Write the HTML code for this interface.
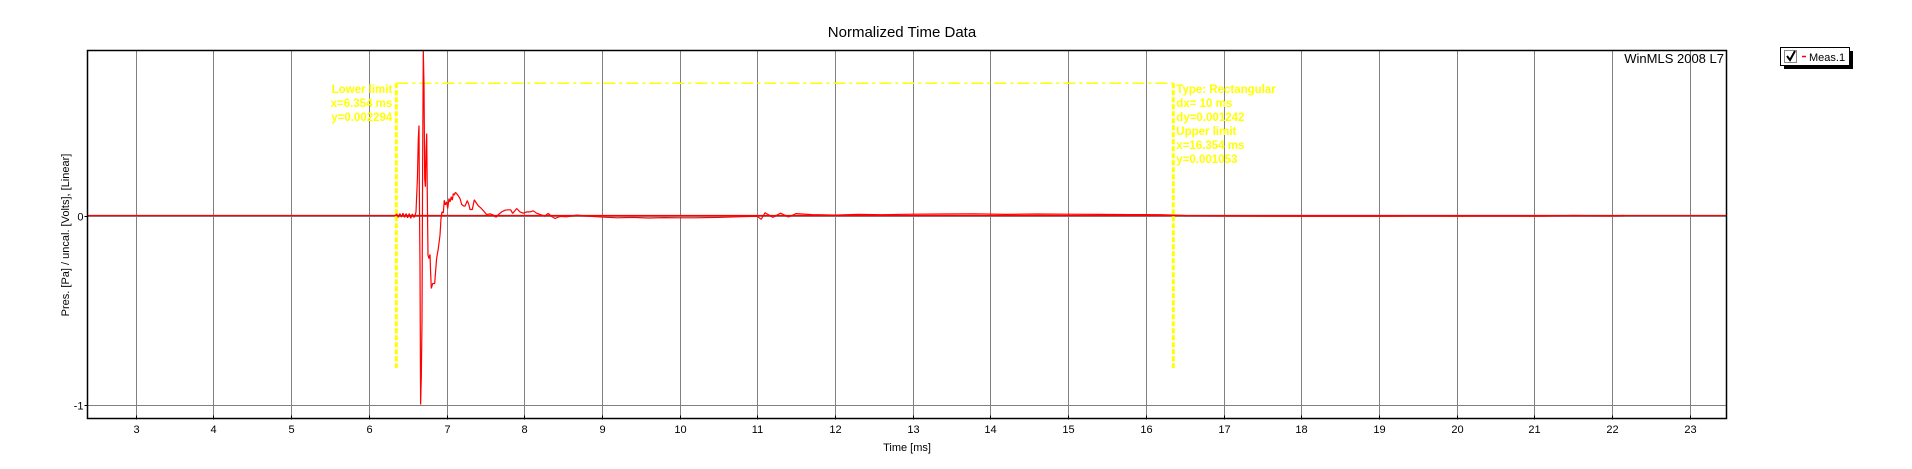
<!DOCTYPE html>
<html><head><meta charset="utf-8">
<style>
html,body{margin:0;padding:0;background:#fff;}
svg{display:block;font-family:"Liberation Sans",Arial,sans-serif;}
</style></head>
<body>
<svg id="chart" width="1912" height="469" viewBox="0 0 1912 469" xmlns="http://www.w3.org/2000/svg">
<rect x="0" y="0" width="1912" height="469" fill="#fff"/>
<text x="902" y="37" font-size="15" text-anchor="middle" fill="#000">Normalized Time Data</text>
<g id="grid"></g>
<g id="cursor"></g>
<g id="series"></g>
<rect x="87.5" y="50.5" width="1639" height="368" fill="none" stroke="#000" stroke-width="1.5"/>
<g id="axes"></g>
<text x="1724" y="63" font-size="13" text-anchor="end" fill="#000">WinMLS 2008 L7</text>
<text x="0" y="0" font-size="11" text-anchor="middle" fill="#000" transform="translate(69,235) rotate(-90)">Pres. [Pa] / uncal. [Volts], [Linear]</text>
<text x="907" y="451" font-size="11" text-anchor="middle" fill="#000">Time [ms]</text>
<g>
<rect x="1784" y="51" width="69" height="18" fill="#000"/>
<rect x="1780.5" y="47.5" width="69" height="18" fill="#fff" stroke="#000"/>
<rect x="1784.5" y="50.5" width="12" height="12" fill="#fff" stroke="#888"/>
<path d="M1787 56 L1790 60 L1795 51" fill="none" stroke="#000" stroke-width="2"/>
<line x1="1802" y1="56.5" x2="1806" y2="56.5" stroke="#f00" stroke-width="1.5"/>
<text x="1809" y="61" font-size="11" fill="#000">Meas.1</text>
</g>
</svg>
<script>
const xTicks = [3,4,5,6,7,8,9,10,11,12,13,14,15,16,17,18,19,20,21,22,23];
const yTicks = [0,-1];
const yTickLabels = ["0","-1"];
const times = [6.341,6.36,6.38,6.40,6.42,6.44,6.46,6.48,6.50,6.52,6.54,6.56,6.58,6.595,6.607,6.625,6.637,6.646,6.650,6.659,6.667,6.676,6.685,6.693,6.702,6.710,6.719,6.728,6.736,6.745,6.753,6.762,6.775,6.788,6.796,6.805,6.822,6.848,6.856,6.873,6.895,6.916,6.929,6.942,6.959,6.972,6.985,7.002,7.015,7.032,7.045,7.062,7.075,7.088,7.101,7.114,7.131,7.152,7.174,7.195,7.217,7.238,7.268,7.290,7.302,7.332,7.358,7.380,7.410,7.440,7.474,7.517,7.560,7.603,7.637,7.667,7.710,7.753,7.796,7.826,7.852,7.882,7.903,7.946,7.989,8.032,8.075,8.117,8.160,8.225,8.268,8.310,8.353,8.396,8.461,8.546,8.675,8.847,9.0,9.2,9.4,9.6,9.8,10.0,10.2,10.5,10.8,11.0,11.05,11.1,11.2,11.3,11.4,11.5,11.7,12.0,12.3,12.6,13.0,13.4,13.8,14.2,14.6,15.0,15.4,15.8,16.2,16.5,17.0,17.5,18.0,18.5,19.0,19.5,20.0,20.5,21.0,21.5,22.0,22.16];
const values = [0.0,0.008,-0.01,0.01,-0.008,0.012,-0.01,0.01,-0.012,0.01,-0.015,0.008,-0.01,0.0,0.019,0.194,0.406,0.476,0.160,-0.263,-1.0,-0.855,-0.563,0.240,0.90,0.69,0.196,0.152,0.337,0.434,0.108,-0.210,-0.228,-0.206,-0.298,-0.386,-0.360,-0.360,-0.316,-0.228,-0.175,-0.104,-0.016,0.019,0.014,0.081,0.056,0.072,0.037,0.090,0.072,0.099,0.081,0.116,0.108,0.122,0.116,0.104,0.090,0.058,0.051,0.049,0.079,0.055,0.032,0.032,0.083,0.069,0.051,0.041,0.026,0.005,0.009,0.002,-0.009,0.005,0.019,0.028,0.030,0.030,0.011,0.026,0.037,0.019,0.012,0.019,0.019,0.025,0.012,0.002,-0.002,0.011,-0.005,-0.016,-0.005,-0.007,0.002,-0.004,-0.008,-0.012,-0.01,-0.013,-0.011,-0.012,-0.012,-0.01,-0.006,-0.004,-0.02,0.015,-0.01,0.012,-0.008,0.01,0.005,0.002,0.006,0.004,0.007,0.008,0.009,0.006,0.008,0.007,0.006,0.005,0.004,0.0,-0.002,-0.003,-0.004,-0.003,-0.004,-0.002,-0.003,-0.002,-0.003,0.0,-0.002,0.0];
const cursorLower = 6.354, cursorUpper = 16.354, cursorTop = 0.7;
const lowerLabels = ["Lower limit","x=6.354 ms","y=0.002294"];
const upperLabels = ["Type: Rectangular","dx=   10 ms","dy=0.001242","Upper limit","x=16.354 ms","y=0.001053"];

const NS="http://www.w3.org/2000/svg";
const X0=87.5,X1=1726.5,Y0=50.5,Y1=418.5;
function xs(t){return 135.7+(t-3)*77.7;}
function ys(v){return 215.5-v*189;}
function mk(tag,attrs,parent){const e=document.createElementNS(NS,tag);for(const k in attrs)e.setAttribute(k,attrs[k]);parent.appendChild(e);return e;}
const grid=document.getElementById('grid'),axes=document.getElementById('axes'),series=document.getElementById('series'),cursor=document.getElementById('cursor');
xTicks.forEach(t=>{
  const x=Math.round(xs(t))+0.5;
  const g=mk('line',{x1:x,y1:Y0,x2:x,y2:Y1,stroke:'#808080','stroke-width':1},grid);
  
  
  const tk=mk('line',{x1:x,y1:Y1-3,x2:x,y2:Y1+1,stroke:'#000','stroke-width':1},axes);
  
  
  const tl=mk('text',{x:x,y:433,'font-size':11,'text-anchor':'middle',fill:'#000'},axes);
  tl.textContent=String(t);
  
  
});
yTicks.forEach((v,i)=>{
  const y=Math.round(ys(v))+0.5;
  const g=mk('line',{x1:X0,y1:y,x2:X1,y2:y,stroke:'#808080','stroke-width':1},grid);
  
  
  const tk=mk('line',{x1:X0-3,y1:y,x2:X0,y2:y,stroke:'#000','stroke-width':1},axes);
  
  
  const tl=mk('text',{x:X0-4,y:y+4,'font-size':11,'text-anchor':'end',fill:'#000'},axes);
  tl.textContent=yTickLabels[i];
  
  
});
const zl=mk('line',{x1:X0,y1:ys(0),x2:X1,y2:ys(0),stroke:'#f00','stroke-width':1.2},series);


const yTop=ys(cursorTop), yBot=368;
const hl=mk('line',{x1:xs(cursorLower),y1:yTop,x2:xs(cursorUpper),y2:yTop,stroke:'#ffff00','stroke-width':1.5,'stroke-dasharray':'12,4,3,4'},cursor);


[cursorLower,cursorUpper].forEach((t,i)=>{
  const l=mk('line',{x1:xs(t),y1:yTop,x2:xs(t),y2:yBot,stroke:'#ffff00','stroke-width':3,'stroke-dasharray':'5,2'},cursor);
  
  
});
lowerLabels.forEach((s,i)=>{
  const t=mk('text',{x:xs(cursorLower)-4,y:93+i*14,'font-size':11.5,'font-weight':'bold','text-anchor':'end',fill:'#ffff00'},cursor);
  t.textContent=s;
  
  
});
upperLabels.forEach((s,i)=>{
  const t=mk('text',{x:xs(cursorUpper)+3,y:93+i*14,'font-size':11.5,'font-weight':'bold',fill:'#ffff00'},cursor);
  t.textContent=s;
  
  
});
const pts=times.map((t,i)=>xs(t).toFixed(1)+','+Math.max(Y0,Math.min(Y1,ys(values[i]))).toFixed(1)).join(' ');
const pl=mk('polyline',{points:pts,fill:'none',stroke:'#f00','stroke-width':1.2,'stroke-linejoin':'bevel'},series);


</script>
</body></html>
